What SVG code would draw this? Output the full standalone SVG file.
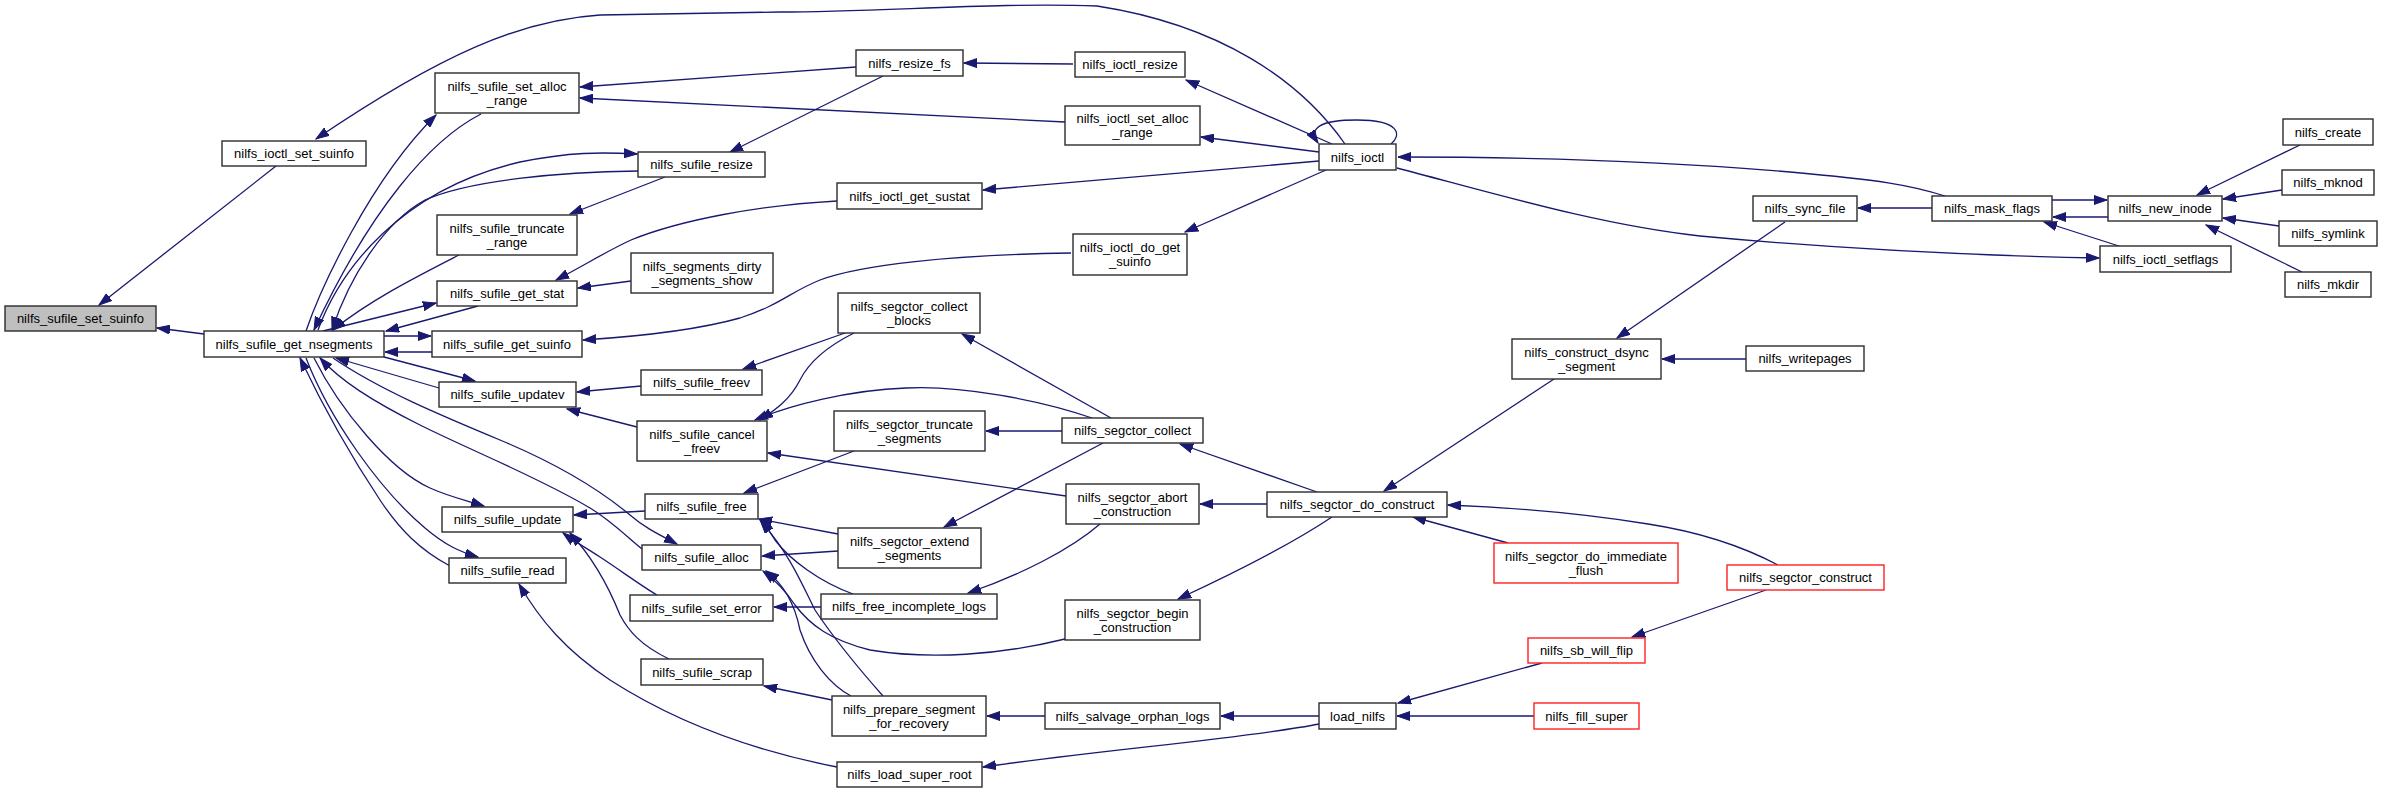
<svg xmlns="http://www.w3.org/2000/svg" width="2383" height="794" viewBox="0 0 2383 794">
<style>
.n rect{fill:#fff;stroke:#2b2b2b;stroke-width:1.4}
.n.r rect{stroke:#ff2020}
.n.g rect{fill:#bfbfbf}
.n text{font-family:"Liberation Sans",Arial,sans-serif;font-size:13px;text-anchor:middle;fill:#000}
#edges path{fill:none;stroke:#191970;stroke-width:1.3;marker-end:url(#a)}
</style>
<defs>
<marker id="a" markerWidth="14" markerHeight="10" refX="13" refY="5" orient="auto" markerUnits="userSpaceOnUse">
<path d="M0,0.5 L13,5 L0,9.5 z" fill="#191970" stroke="#191970" stroke-width="1"/>
</marker>
</defs>
<rect width="2383" height="794" fill="#fff"/>
<g id="edges">
<path d="M276,166 L99,305"/>
<path d="M1345,144 C1300,80 1220,25 1097,6 C1000,2 880,12 780,12 L600,15 C520,20 440,55 316,139"/>
<path d="M204,334 L157,328"/>
<path d="M1945,196 C1910,185 1880,180 1790,172 C1650,160 1500,157 1398,157"/>
<path d="M1397,168 C1500,195 1600,225 1700,236 C1850,250 2000,256 2099,258"/>
<path d="M1319,161 L983,190"/>
<path d="M1319,152 L1201,137"/>
<path d="M1332,144 L1186,80"/>
<path d="M1326,170 L1185,232"/>
<path d="M1391,144 C1402,135 1400,120 1357,120 C1320,120 1308,128 1318,143"/>
<path d="M1073,64 L964,63"/>
<path d="M856,67 L580,87"/>
<path d="M1065,122 L580,98"/>
<path d="M883,76 L730,152"/>
<path d="M306,331 C320,290 370,180 436,115"/>
<path d="M481,114 C430,140 370,210 314,330"/>
<path d="M318,330 C340,270 400,190 520,162 C570,152 600,152 637,154"/>
<path d="M638,171 C560,172 470,180 425,200 C385,222 350,275 332,330"/>
<path d="M665,177 L570,214"/>
<path d="M459,255 C420,275 370,300 333,330"/>
<path d="M323,331 L436,303"/>
<path d="M478,306 L386,331"/>
<path d="M837,201 C760,205 680,220 631,240 C605,252 585,265 556,280"/>
<path d="M631,281 L578,288"/>
<path d="M384,336 L431,336"/>
<path d="M432,352 L385,352"/>
<path d="M1071,253 C950,255 860,265 820,280 C790,292 780,305 740,318 C690,332 630,337 583,340"/>
<path d="M384,357 L475,381"/>
<path d="M439,388 L336,358"/>
<path d="M641,386 L577,392"/>
<path d="M637,427 L567,409"/>
<path d="M314,358 C340,410 390,470 430,488 C450,497 465,500 484,506"/>
<path d="M450,566 C420,550 400,530 380,500 C350,455 320,400 300,358"/>
<path d="M306,358 C330,420 380,490 425,528 C445,545 460,552 478,557"/>
<path d="M333,358 C380,390 440,415 500,440 C560,465 600,490 630,515 C645,528 660,535 677,544"/>
<path d="M642,549 C625,535 610,520 590,508 C540,478 470,450 420,425 C370,400 340,380 320,358"/>
<path d="M645,511 L574,515"/>
<path d="M657,595 C640,585 620,570 600,557 C585,547 575,542 563,533"/>
<path d="M669,659 C640,645 628,630 620,615 C610,590 595,560 570,533"/>
<path d="M837,767 C760,752 680,725 610,680 C565,650 540,620 519,584"/>
<path d="M845,333 L743,369"/>
<path d="M854,333 C830,345 810,360 800,380 C790,400 775,410 760,420"/>
<path d="M1092,418 C1040,400 960,385 906,388 C850,390 790,405 755,420"/>
<path d="M1111,418 L962,334"/>
<path d="M1062,431 L986,431"/>
<path d="M1103,443 L944,527"/>
<path d="M1317,492 L1180,444"/>
<path d="M1267,504 L1200,504"/>
<path d="M1066,496 L768,453"/>
<path d="M1100,524 C1070,550 1020,575 968,593"/>
<path d="M854,451 L744,493"/>
<path d="M838,534 L759,519"/>
<path d="M838,551 L762,556"/>
<path d="M1332,517 C1290,545 1230,575 1178,599"/>
<path d="M821,607 L774,607"/>
<path d="M853,594 C820,582 790,560 775,540 L762,520"/>
<path d="M1065,639 C1000,655 930,660 870,650 C830,640 810,625 795,605 C785,590 775,580 763,571"/>
<path d="M851,696 C830,685 810,660 800,630 C795,605 785,585 766,571"/>
<path d="M883,696 C860,670 835,640 815,610 C800,580 790,555 760,520"/>
<path d="M832,700 L764,686"/>
<path d="M1045,716 L987,716"/>
<path d="M1319,716 L1221,716"/>
<path d="M1319,724 C1250,738 1100,750 983,767"/>
<path d="M1542,663 L1398,703"/>
<path d="M1534,716 L1397,716"/>
<path d="M1766,590 L1632,637"/>
<path d="M1778,565 C1740,545 1700,532 1648,524 C1580,513 1500,507 1448,505"/>
<path d="M1508,543 L1413,517"/>
<path d="M1554,379 L1384,491"/>
<path d="M1746,359 L1662,359"/>
<path d="M1785,222 L1617,338"/>
<path d="M1932,208 L1858,208"/>
<path d="M2052,200 L2107,200"/>
<path d="M2108,217 L2053,217"/>
<path d="M2122,247 L2044,222"/>
<path d="M2300,145 L2197,195"/>
<path d="M2282,190 L2223,199"/>
<path d="M2279,226 L2223,218"/>
<path d="M2302,272 L2206,225"/>
</g>
<g id="set_suinfo" class="n g"><rect x="5" y="306" width="151" height="25"/><text x="80.5" y="323">nilfs_sufile_set_suinfo</text></g>
<g id="get_nsegments" class="n"><rect x="204" y="331" width="180" height="26"/><text x="294" y="348.5">nilfs_sufile_get_nsegments</text></g>
<g id="ioctl_set_suinfo" class="n"><rect x="222" y="141" width="144" height="25"/><text x="294" y="158">nilfs_ioctl_set_suinfo</text></g>
<g id="set_alloc_range" class="n"><rect x="435" y="73" width="144" height="40"/><text x="507" y="90.5">nilfs_sufile_set_alloc</text><text x="507" y="104.5">_range</text></g>
<g id="truncate_range" class="n"><rect x="437" y="215" width="140" height="40"/><text x="507" y="232.5">nilfs_sufile_truncate</text><text x="507" y="246.5">_range</text></g>
<g id="get_stat" class="n"><rect x="437" y="281" width="140" height="25"/><text x="507" y="298">nilfs_sufile_get_stat</text></g>
<g id="get_suinfo" class="n"><rect x="432" y="331" width="150" height="26"/><text x="507" y="348.5">nilfs_sufile_get_suinfo</text></g>
<g id="updatev" class="n"><rect x="439" y="382" width="137" height="25"/><text x="507.5" y="399">nilfs_sufile_updatev</text></g>
<g id="update" class="n"><rect x="442" y="507" width="131" height="25"/><text x="507.5" y="524">nilfs_sufile_update</text></g>
<g id="read" class="n"><rect x="449" y="558" width="117" height="25"/><text x="507.5" y="575">nilfs_sufile_read</text></g>
<g id="resize_fs" class="n"><rect x="856" y="50" width="107" height="26"/><text x="909.5" y="67.5">nilfs_resize_fs</text></g>
<g id="ioctl_resize" class="n"><rect x="1075" y="52" width="110" height="25"/><text x="1130" y="69">nilfs_ioctl_resize</text></g>
<g id="ioctl_set_alloc_range" class="n"><rect x="1065" y="106" width="135" height="39"/><text x="1132.5" y="123">nilfs_ioctl_set_alloc</text><text x="1132.5" y="137">_range</text></g>
<g id="sufile_resize" class="n"><rect x="638" y="152" width="127" height="25"/><text x="701.5" y="169">nilfs_sufile_resize</text></g>
<g id="ioctl_get_sustat" class="n"><rect x="837" y="183" width="145" height="26"/><text x="909.5" y="200.5">nilfs_ioctl_get_sustat</text></g>
<g id="ioctl_do_get_suinfo" class="n"><rect x="1073" y="234" width="114" height="41"/><text x="1130" y="252">nilfs_ioctl_do_get</text><text x="1130" y="266">_suinfo</text></g>
<g id="dirty_segments_show" class="n"><rect x="631" y="253" width="142" height="40"/><text x="702" y="270.5">nilfs_segments_dirty</text><text x="702" y="284.5">_segments_show</text></g>
<g id="nilfs_ioctl" class="n"><rect x="1319" y="144" width="77" height="26"/><text x="1357.5" y="161.5">nilfs_ioctl</text></g>
<g id="sync_file" class="n"><rect x="1753" y="196" width="104" height="25"/><text x="1805" y="213">nilfs_sync_file</text></g>
<g id="mask_flags" class="n"><rect x="1932" y="196" width="120" height="25"/><text x="1992" y="213">nilfs_mask_flags</text></g>
<g id="new_inode" class="n"><rect x="2108" y="196" width="114" height="25"/><text x="2165" y="213">nilfs_new_inode</text></g>
<g id="create" class="n"><rect x="2283" y="119" width="90" height="26"/><text x="2328" y="136.5">nilfs_create</text></g>
<g id="mknod" class="n"><rect x="2282" y="170" width="92" height="25"/><text x="2328" y="187">nilfs_mknod</text></g>
<g id="symlink" class="n"><rect x="2279" y="221" width="98" height="25"/><text x="2328" y="238">nilfs_symlink</text></g>
<g id="ioctl_setflags" class="n"><rect x="2100" y="246" width="131" height="26"/><text x="2165.5" y="263.5">nilfs_ioctl_setflags</text></g>
<g id="mkdir" class="n"><rect x="2285" y="272" width="86" height="25"/><text x="2328" y="289">nilfs_mkdir</text></g>
<g id="construct_dsync" class="n"><rect x="1512" y="339" width="149" height="40"/><text x="1586.5" y="356.5">nilfs_construct_dsync</text><text x="1586.5" y="370.5">_segment</text></g>
<g id="writepages" class="n"><rect x="1746" y="346" width="118" height="25"/><text x="1805" y="363">nilfs_writepages</text></g>
<g id="do_construct" class="n"><rect x="1267" y="492" width="180" height="25"/><text x="1357" y="509">nilfs_segctor_do_construct</text></g>
<g id="collect_blocks" class="n"><rect x="838" y="293" width="142" height="40"/><text x="909" y="310.5">nilfs_segctor_collect</text><text x="909" y="324.5">_blocks</text></g>
<g id="sufile_freev" class="n"><rect x="641" y="370" width="121" height="25"/><text x="701.5" y="387">nilfs_sufile_freev</text></g>
<g id="cancel_freev" class="n"><rect x="637" y="421" width="130" height="40"/><text x="702" y="438.5">nilfs_sufile_cancel</text><text x="702" y="452.5">_freev</text></g>
<g id="truncate_segments" class="n"><rect x="834" y="411" width="151" height="40"/><text x="909.5" y="428.5">nilfs_segctor_truncate</text><text x="909.5" y="442.5">_segments</text></g>
<g id="segctor_collect" class="n"><rect x="1062" y="418" width="141" height="25"/><text x="1132.5" y="435">nilfs_segctor_collect</text></g>
<g id="abort_construction" class="n"><rect x="1066" y="484" width="133" height="40"/><text x="1132.5" y="501.5">nilfs_segctor_abort</text><text x="1132.5" y="515.5">_construction</text></g>
<g id="sufile_free" class="n"><rect x="645" y="494" width="113" height="25"/><text x="701.5" y="511">nilfs_sufile_free</text></g>
<g id="extend_segments" class="n"><rect x="838" y="528" width="143" height="40"/><text x="909.5" y="545.5">nilfs_segctor_extend</text><text x="909.5" y="559.5">_segments</text></g>
<g id="sufile_alloc" class="n"><rect x="642" y="545" width="119" height="25"/><text x="701.5" y="562">nilfs_sufile_alloc</text></g>
<g id="set_error" class="n"><rect x="630" y="595" width="143" height="26"/><text x="701.5" y="612.5">nilfs_sufile_set_error</text></g>
<g id="free_incomplete_logs" class="n"><rect x="821" y="594" width="176" height="25"/><text x="909" y="611">nilfs_free_incomplete_logs</text></g>
<g id="begin_construction" class="n"><rect x="1065" y="600" width="135" height="40"/><text x="1132.5" y="617.5">nilfs_segctor_begin</text><text x="1132.5" y="631.5">_construction</text></g>
<g id="sufile_scrap" class="n"><rect x="641" y="659" width="122" height="26"/><text x="702" y="676.5">nilfs_sufile_scrap</text></g>
<g id="prepare_segment" class="n"><rect x="832" y="696" width="154" height="40"/><text x="909" y="713.5">nilfs_prepare_segment</text><text x="909" y="727.5">_for_recovery</text></g>
<g id="salvage" class="n"><rect x="1045" y="703" width="175" height="26"/><text x="1132.5" y="720.5">nilfs_salvage_orphan_logs</text></g>
<g id="load_super_root" class="n"><rect x="837" y="762" width="145" height="25"/><text x="909.5" y="779">nilfs_load_super_root</text></g>
<g id="immediate_flush" class="n r"><rect x="1494" y="543" width="184" height="40"/><text x="1586" y="560.5">nilfs_segctor_do_immediate</text><text x="1586" y="574.5">_flush</text></g>
<g id="segctor_construct" class="n r"><rect x="1727" y="565" width="157" height="25"/><text x="1805.5" y="582">nilfs_segctor_construct</text></g>
<g id="sb_will_flip" class="n r"><rect x="1528" y="638" width="117" height="25"/><text x="1586.5" y="655">nilfs_sb_will_flip</text></g>
<g id="load_nilfs" class="n"><rect x="1319" y="703" width="77" height="26"/><text x="1357.5" y="720.5">load_nilfs</text></g>
<g id="fill_super" class="n r"><rect x="1534" y="703" width="105" height="26"/><text x="1586.5" y="720.5">nilfs_fill_super</text></g>
</svg>
